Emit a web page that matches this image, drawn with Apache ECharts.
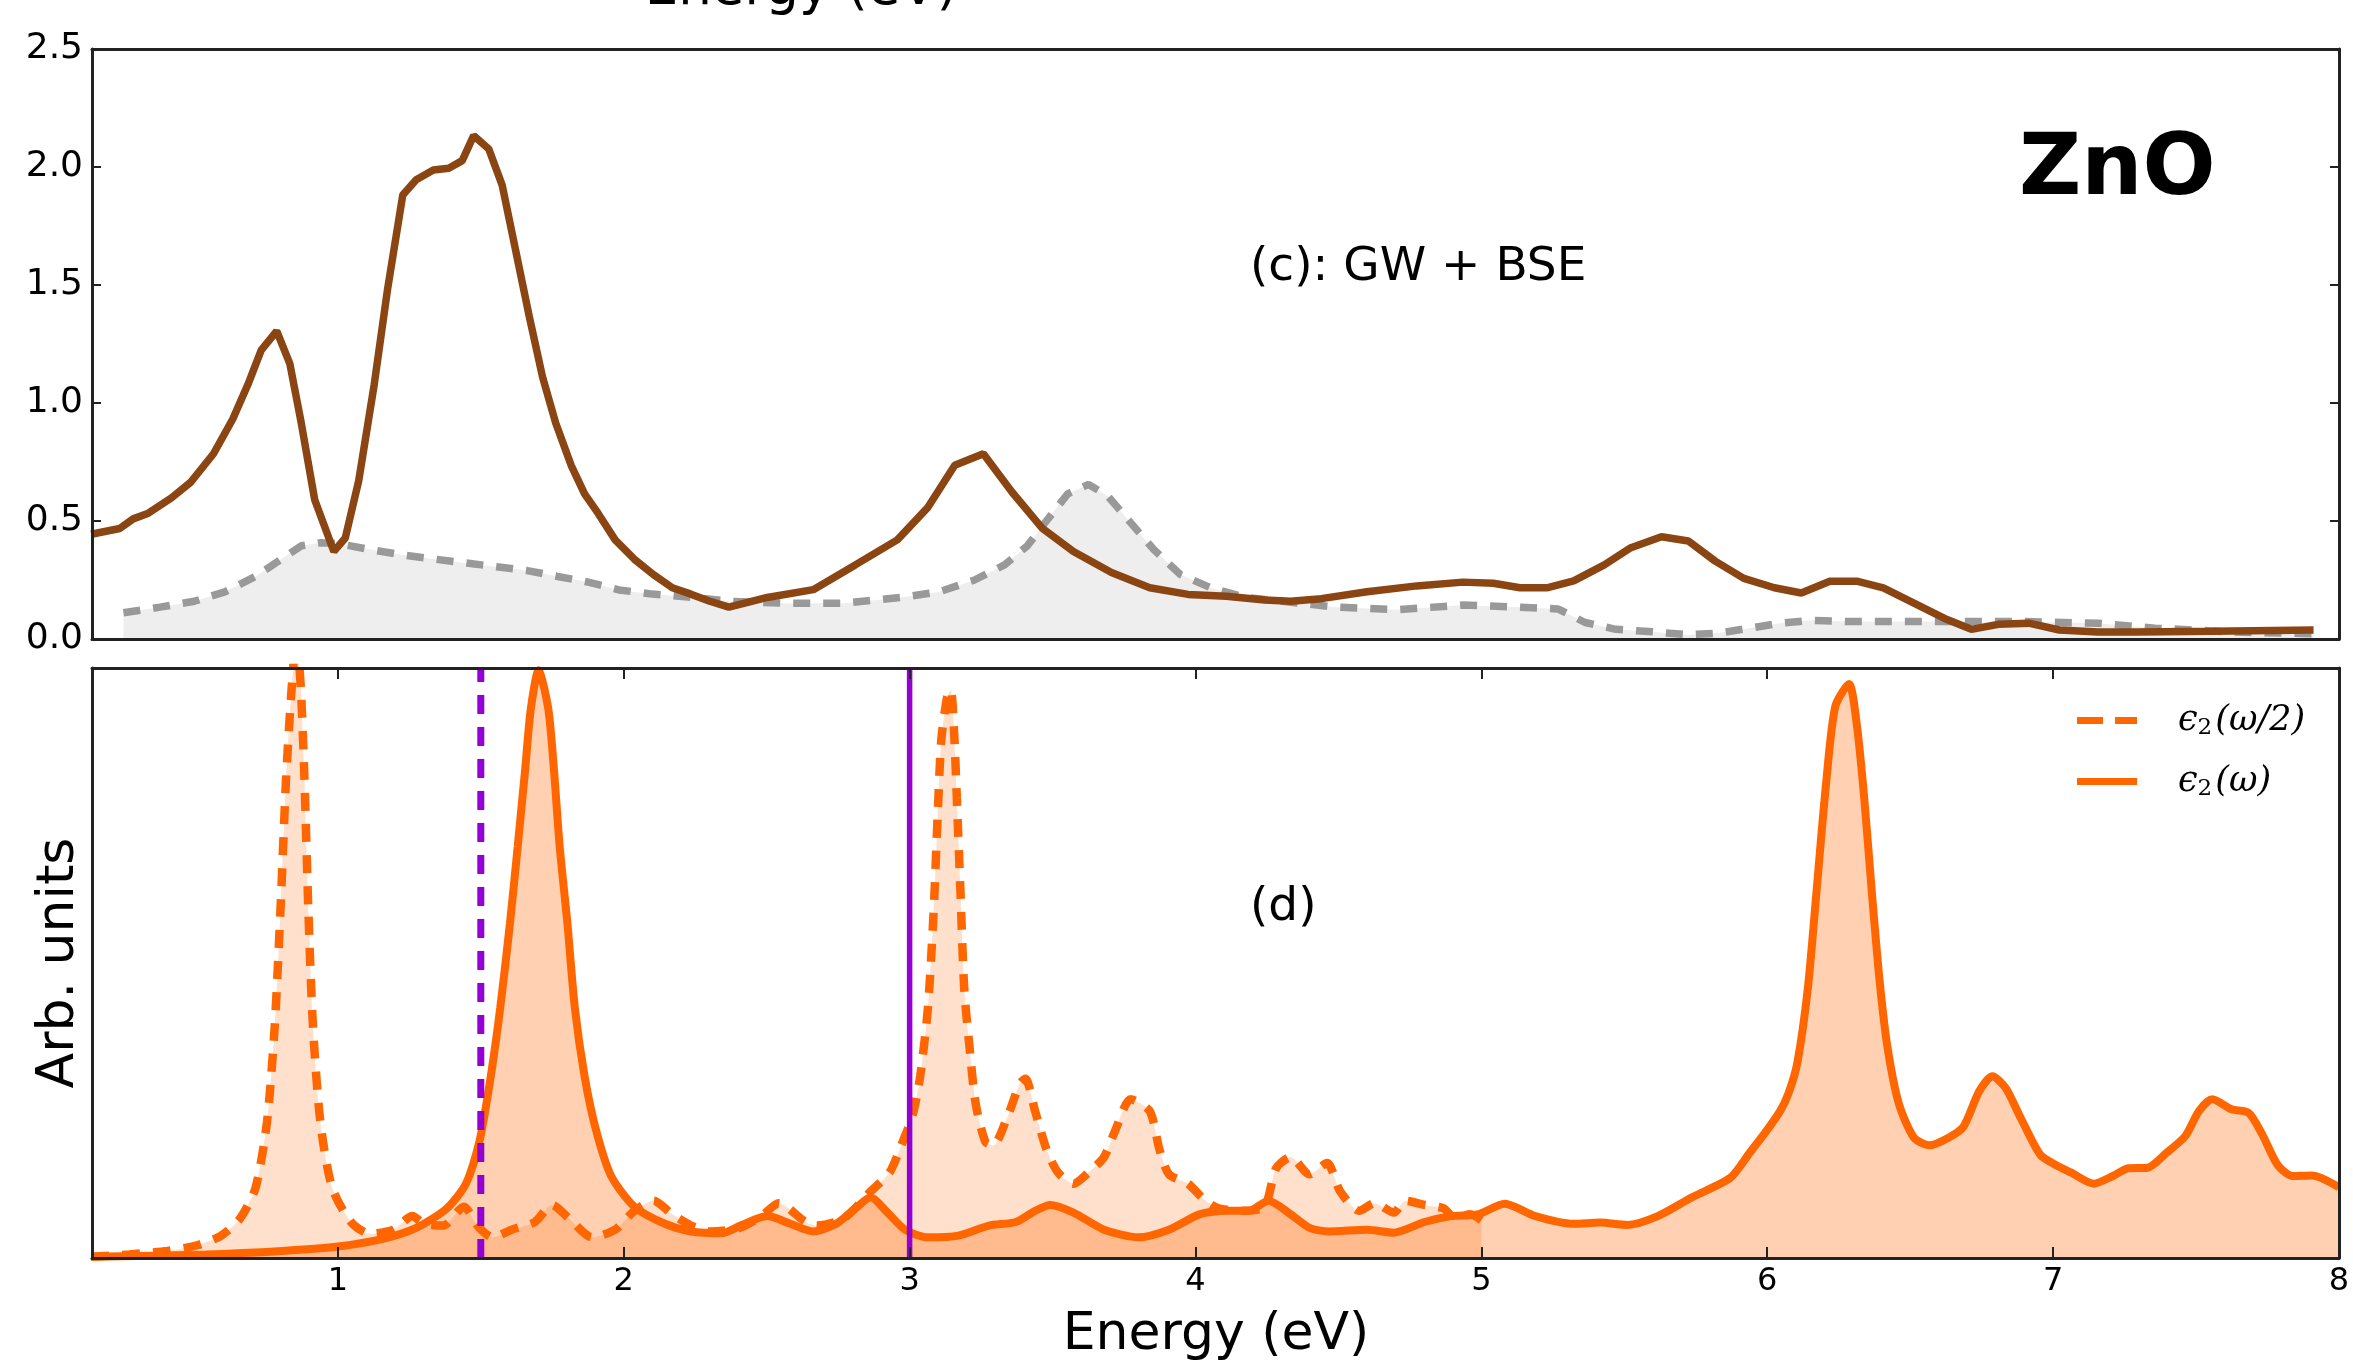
<!DOCTYPE html>
<html>
<head>
<meta charset="utf-8">
<script src="https://cdn.jsdelivr.net/npm/echarts@6.0.0/dist/echarts.min.js"></script>
<style>
html,body{margin:0;padding:0;background:#fff;}
#chart{width:2353px;height:1369px;}
</style>
</head>
<body>
<div id="chart"></div>
<script>
// ---------- data ----------
const xTicks = [1, 2, 3, 4, 5, 6, 7, 8];
const yTopTicks = [0, 0.5, 1.0, 1.5, 2.0, 2.5];

// (c) GW + BSE, solid brown
const gwbseE = [0.137,0.237,0.284,0.337,0.418,0.484,0.565,0.632,0.685,0.732,0.786,0.832,0.872,0.919,0.986,1.026,1.073,1.127,1.174,1.227,1.274,1.334,1.388,1.435,1.475,1.528,1.575,1.622,1.669,1.716,1.762,1.816,1.863,1.910,1.970,2.037,2.104,2.170,2.235,2.301,2.368,2.502,2.663,2.810,2.957,3.064,3.158,3.258,3.358,3.465,3.573,3.706,3.840,3.974,4.108,4.242,4.333,4.440,4.600,4.774,4.935,5.042,5.135,5.229,5.323,5.430,5.523,5.630,5.724,5.818,5.918,6.025,6.119,6.219,6.313,6.406,6.513,6.620,6.714,6.808,6.915,7.022,7.156,7.289,7.557,7.911];
const gwbseV = [0.444,0.468,0.509,0.533,0.598,0.663,0.785,0.931,1.077,1.224,1.305,1.167,0.915,0.590,0.371,0.428,0.671,1.077,1.483,1.881,1.946,1.987,1.995,2.027,2.133,2.076,1.922,1.646,1.370,1.110,0.915,0.736,0.615,0.533,0.420,0.338,0.273,0.217,0.190,0.160,0.135,0.176,0.209,0.314,0.420,0.558,0.736,0.785,0.623,0.468,0.371,0.282,0.217,0.189,0.181,0.165,0.160,0.171,0.200,0.225,0.241,0.236,0.217,0.217,0.246,0.314,0.387,0.433,0.415,0.330,0.257,0.217,0.195,0.245,0.245,0.217,0.152,0.087,0.041,0.062,0.067,0.038,0.030,0.030,0.033,0.038];

// (c) reference curve, grey dashed with fill
const refE = [0.250,0.378,0.498,0.605,0.712,0.792,0.872,0.940,1.006,1.113,1.234,1.341,1.448,1.555,1.662,1.769,1.876,1.983,2.090,2.224,2.368,2.556,2.770,2.970,3.104,3.225,3.332,3.412,3.479,3.553,3.626,3.693,3.773,3.854,3.947,4.054,4.175,4.333,4.493,4.707,4.935,5.135,5.269,5.363,5.470,5.604,5.724,5.831,5.938,6.045,6.152,6.273,6.620,6.888,7.156,7.356,7.624,7.911];
const refV = [0.111,0.135,0.160,0.200,0.265,0.330,0.395,0.408,0.403,0.379,0.355,0.338,0.322,0.306,0.290,0.265,0.241,0.208,0.192,0.178,0.160,0.152,0.152,0.176,0.200,0.249,0.314,0.395,0.501,0.615,0.655,0.606,0.493,0.379,0.273,0.217,0.176,0.156,0.135,0.124,0.144,0.135,0.127,0.070,0.041,0.030,0.018,0.025,0.046,0.067,0.079,0.074,0.074,0.074,0.067,0.046,0.030,0.022];

// (d) eps2(w/2), dashed orange (arb. units)
const halfE = [0.137,0.270,0.404,0.511,0.592,0.658,0.712,0.752,0.779,0.799,0.819,0.839,0.855,0.870,0.883,0.897,0.913,0.939,0.980,1.046,1.113,1.194,1.261,1.301,1.368,1.441,1.488,1.541,1.608,1.689,1.749,1.809,1.889,1.970,2.037,2.104,2.170,2.235,2.300,2.400,2.480,2.542,2.636,2.676,2.770,2.864,2.930,2.971,3.011,3.037,3.064,3.084,3.098,3.111,3.131,3.144,3.155,3.165,3.178,3.191,3.209,3.231,3.265,3.292,3.345,3.385,3.405,3.439,3.479,3.519,3.573,3.626,3.680,3.720,3.773,3.840,3.874,3.907,3.974,4.028,4.081,4.175,4.242,4.282,4.333,4.399,4.460,4.506,4.573,4.627,4.694,4.734,4.801,4.868,4.908,4.961,5.000];
const halfV = [0.002,0.006,0.012,0.022,0.038,0.067,0.119,0.230,0.392,0.587,0.814,0.970,1.050,0.970,0.814,0.587,0.392,0.230,0.119,0.061,0.041,0.048,0.071,0.058,0.055,0.087,0.055,0.035,0.048,0.061,0.090,0.067,0.035,0.048,0.080,0.097,0.074,0.055,0.045,0.050,0.070,0.093,0.061,0.055,0.067,0.113,0.145,0.191,0.243,0.308,0.424,0.587,0.749,0.879,0.950,0.963,0.898,0.781,0.619,0.457,0.360,0.262,0.197,0.191,0.243,0.295,0.304,0.249,0.184,0.145,0.126,0.145,0.171,0.217,0.269,0.249,0.184,0.142,0.126,0.100,0.084,0.080,0.087,0.152,0.171,0.142,0.161,0.113,0.080,0.093,0.077,0.097,0.090,0.084,0.067,0.074,0.064];

// (d) eps2(w), solid orange (arb. units)
const fullE = [0.137,0.538,0.806,0.993,1.154,1.274,1.381,1.448,1.495,1.535,1.568,1.602,1.629,1.655,1.675,1.702,1.736,1.756,1.776,1.803,1.829,1.863,1.903,1.956,2.037,2.144,2.235,2.342,2.409,2.502,2.583,2.663,2.743,2.810,2.864,2.917,2.984,3.064,3.171,3.278,3.372,3.439,3.492,3.573,3.680,3.800,3.907,4.014,4.108,4.188,4.255,4.333,4.399,4.466,4.600,4.694,4.801,4.894,4.988,5.082,5.189,5.323,5.416,5.510,5.617,5.737,5.871,5.938,5.992,6.045,6.075,6.105,6.142,6.172,6.205,6.238,6.286,6.313,6.339,6.366,6.393,6.420,6.460,6.513,6.567,6.634,6.687,6.741,6.788,6.834,6.888,6.955,7.008,7.062,7.142,7.209,7.263,7.330,7.396,7.463,7.510,7.557,7.624,7.684,7.731,7.785,7.838,7.905,8.000];
const fullV = [0.002,0.006,0.012,0.019,0.032,0.051,0.084,0.126,0.197,0.308,0.424,0.567,0.697,0.827,0.931,0.996,0.931,0.827,0.697,0.567,0.424,0.308,0.217,0.139,0.087,0.058,0.045,0.042,0.055,0.071,0.058,0.045,0.058,0.084,0.103,0.080,0.048,0.035,0.038,0.055,0.061,0.080,0.090,0.077,0.048,0.035,0.048,0.074,0.080,0.080,0.097,0.074,0.051,0.045,0.048,0.043,0.061,0.071,0.074,0.092,0.071,0.058,0.060,0.056,0.071,0.103,0.136,0.178,0.212,0.249,0.280,0.330,0.457,0.619,0.800,0.935,0.973,0.905,0.781,0.619,0.470,0.359,0.262,0.204,0.191,0.204,0.223,0.282,0.308,0.288,0.236,0.175,0.158,0.145,0.126,0.139,0.152,0.153,0.178,0.207,0.249,0.269,0.252,0.246,0.210,0.158,0.139,0.140,0.120];

// vertical markers (energies, eV)
const markerDashedE = 1.5;
const markerSolidE = 3.0;

// ---------- build ----------
const zip = (a, b) => a.map((v, i) => [v, b[i]]);
const xMin = 0.14, xMax = 8;
const frame = '#222';
const orange = '#ff6600';
const purple = '#9400d3';
const font = 'DejaVu Sans';

const chart = echarts.init(document.getElementById('chart'), null, {renderer: 'canvas'});

const G0 = {left: 92, top: 49, width: 2247, height: 590};
const G1 = {left: 92, top: 668, width: 2247, height: 590};

function xAx(grid, pos, opts) {
  return Object.assign({
    type: 'value', gridIndex: grid, position: pos, min: xMin, max: xMax, z: 10,
    axisLine: {show: true, onZero: false, lineStyle: {color: frame, width: 3}},
    axisTick: {show: false},
    axisLabel: {show: false},
    splitLine: {show: false}
  }, opts || {});
}
function yAx(grid, pos, min, max, opts) {
  return Object.assign({
    type: 'value', gridIndex: grid, position: pos, min: min, max: max, z: 10,
    axisLine: {show: true, onZero: false, lineStyle: {color: frame, width: 3}},
    axisTick: {show: false},
    axisLabel: {show: false},
    splitLine: {show: false}
  }, opts || {});
}

const option = {
  backgroundColor: '#fff',
  animation: false,
  grid: [
    Object.assign({containLabel: false, show: false}, G0),
    Object.assign({containLabel: false, show: false}, G1)
  ],
  xAxis: [
    xAx(0, 'bottom'),
    xAx(0, 'top'),
    xAx(1, 'bottom', {
      axisTick: {show: true, inside: true, length: 11, customValues: xTicks, lineStyle: {color: frame, width: 2}},
      axisLabel: {show: true, customValues: xTicks, fontSize: 32, color: '#000', fontFamily: font, margin: 8,
        formatter: v => String(v)}
    }),
    xAx(1, 'top', {
      axisTick: {show: true, inside: true, length: 11, customValues: xTicks, lineStyle: {color: frame, width: 2}}
    })
  ],
  yAxis: [
    yAx(0, 'left', 0, 2.5, {
      interval: 0.5,
      axisTick: {show: true, inside: true, length: 9, lineStyle: {color: frame, width: 2}},
      axisLabel: {show: true, fontSize: 36, color: '#000', fontFamily: font, margin: 9,
        customValues: yTopTicks, formatter: v => v.toFixed(1)}
    }),
    yAx(0, 'right', 0, 2.5, {
      interval: 0.5,
      axisTick: {show: true, inside: true, length: 9, lineStyle: {color: frame, width: 2}}
    }),
    yAx(1, 'left', 0, 1),
    yAx(1, 'right', 0, 1)
  ],
  legend: {
    orient: 'vertical',
    left: 2077, top: 703,
    padding: 0,
    itemWidth: 60, itemHeight: 7, itemGap: 24,
    data: [
      {name: 'e2half', icon: 'path://M0,0h26v7h-26z M38,0h22v7h-22z'},
      {name: 'e2full', icon: 'path://M0,0h60v7h-60z'}
    ],
    selectedMode: false,
    formatter: name => name === 'e2half' ? '{e|ϵ}{s|2}{p|(ω/2)}' : '{e|ϵ}{s|2}{p|(ω)}',
    textStyle: {
      color: '#000',
      rich: {
        e: {fontFamily: 'DejaVu Serif', fontStyle: 'italic', fontSize: 35, color: '#000', padding: [0, 0, 0, 36]},
        s: {fontFamily: 'DejaVu Serif', fontSize: 23, color: '#000', padding: [16, 3, 0, 0]},
        p: {fontFamily: 'DejaVu Serif', fontStyle: 'italic', fontSize: 35, color: '#000'}
      }
    }
  },
  series: [
    {
      name: 'ref', type: 'line', xAxisIndex: 0, yAxisIndex: 0, z: 2,
      data: zip(refE, refV), symbol: 'none', smooth: false,
      lineStyle: {color: '#999999', width: 7.5, type: [17, 13]},
      areaStyle: {color: '#888888', opacity: 0.14}
    },
    {
      name: 'gwbse', type: 'line', xAxisIndex: 0, yAxisIndex: 0, z: 3,
      data: zip(gwbseE, gwbseV), symbol: 'none', smooth: false,
      lineStyle: {color: '#8b4513', width: 7.5}
    },
    {
      name: 'e2half', type: 'line', xAxisIndex: 2, yAxisIndex: 2, z: 2,
      data: zip(halfE, halfV), symbol: 'none', smooth: 0.25,
      itemStyle: {color: orange},
      lineStyle: {color: orange, width: 8.5, type: [18, 13]},
      areaStyle: {color: orange, opacity: 0.2}
    },
    {
      name: 'e2full', type: 'line', xAxisIndex: 2, yAxisIndex: 2, z: 3,
      data: zip(fullE, fullV), symbol: 'none', smooth: 0.25,
      itemStyle: {color: orange},
      lineStyle: {color: orange, width: 8},
      areaStyle: {color: orange, opacity: 0.3}
    },
    {
      name: 'markDashed', type: 'line', xAxisIndex: 2, yAxisIndex: 2, z: 5,
      data: [[markerDashedE, 0], [markerDashedE, 1]], symbol: 'none',
      lineStyle: {color: purple, width: 7, type: [19, 13]}
    },
    {
      name: 'markSolid', type: 'line', xAxisIndex: 2, yAxisIndex: 2, z: 5,
      data: [[markerSolidE, 0], [markerSolidE, 1]], symbol: 'none',
      lineStyle: {color: purple, width: 5.5}
    }
  ],
  graphic: [
    {type: 'text', x: 801, y: -10, z: 20, style: {text: 'Energy (eV)', fontSize: 53, fontFamily: font, fill: '#000', align: 'center', verticalAlign: 'middle'}},
    {type: 'text', x: 2019, y: 172, z: 20, style: {text: 'ZnO', fontSize: 86, fontWeight: 'bold', fontFamily: font, fill: '#000', align: 'left', verticalAlign: 'middle'}},
    {type: 'text', x: 1250, y: 268, z: 20, style: {text: '(c): GW + BSE', fontSize: 47, fontFamily: font, fill: '#000', align: 'left', verticalAlign: 'middle'}},
    {type: 'text', x: 1250, y: 908, z: 20, style: {text: '(d)', fontSize: 47, fontFamily: font, fill: '#000', align: 'left', verticalAlign: 'middle'}},
    {type: 'text', x: 59, y: 963, rotation: Math.PI / 2, z: 20, style: {text: 'Arb. units', fontSize: 52, fontFamily: font, fill: '#000', align: 'center', verticalAlign: 'middle'}},
    {type: 'text', x: 1216, y: 1335, z: 20, style: {text: 'Energy (eV)', fontSize: 52, fontFamily: font, fill: '#000', align: 'center', verticalAlign: 'middle'}}
  ]
};

chart.setOption(option);
</script>
</body>
</html>
